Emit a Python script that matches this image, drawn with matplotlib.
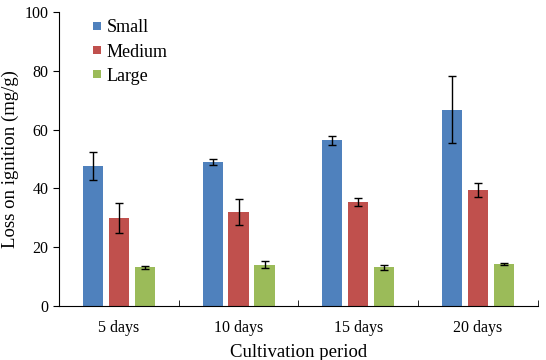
import numpy as np
import matplotlib.pyplot as plt
from matplotlib.lines import Line2D

# values
periods = ['5 days', '10 days', '15 days', '20 days']
small = [47.6, 49.0, 56.3, 66.8]
small_err = [4.7, 1.0, 1.5, 11.4]
medium = [29.9, 31.9, 35.3, 39.5]
medium_err = [5.1, 4.5, 1.3, 2.4]
large = [13.1, 14.0, 13.1, 14.4]
large_err = [0.5, 1.2, 0.9, 0.3]
names = ['Small', 'Medium', 'Large']
colors = ['#4F81BD', '#C0504D', '#9BBB59']

plt.rcParams['font.family'] = ['Liberation Serif', 'DejaVu Serif']

fig = plt.figure(figsize=(5.46, 3.6), dpi=100)
ax = fig.add_axes([0.108, 0.15, 0.877, 0.817])

x = np.arange(len(periods))
w = 0.168
off = 0.217
ekw = dict(ecolor='black', elinewidth=1, capsize=3, capthick=1)
ax.bar(x - off, small, w, yerr=small_err, color=colors[0], error_kw=ekw)
ax.bar(x, medium, w, yerr=medium_err, color=colors[1], error_kw=ekw)
ax.bar(x + off, large, w, yerr=large_err, color=colors[2], error_kw=ekw)

ax.set_xlim(-0.5, len(periods) - 0.5)
ax.set_ylim(0, 100)
ax.set_yticks(np.arange(0, 101, 20))
ax.set_xticks(x)
ax.set_xticklabels(periods)
ax.tick_params(axis='x', length=0, labelsize=11.5, pad=10)
ax.set_xticks(np.arange(-0.5, len(periods), 1), minor=True)
ax.tick_params(axis='x', which='minor', length=4, direction='in')
ax.tick_params(axis='y', labelsize=11.5, direction='out', length=4)

ax.spines['top'].set_visible(False)
ax.spines['right'].set_visible(False)

ax.set_xlabel('Cultivation period', fontsize=13.5, labelpad=6)
ax.set_ylabel('Loss on ignition (mg/g)', fontsize=13.5)

handles = [Line2D([], [], marker='s', linestyle='none', markersize=6,
                  markeredgewidth=0, color=c) for c in colors]
ax.legend(handles, names, loc='upper left', bbox_to_anchor=(0.036, 1.03),
          frameon=False, fontsize=13, handlelength=0.5, handletextpad=0.3,
          labelspacing=0.4)

fig.savefig('out.png', dpi=100)
